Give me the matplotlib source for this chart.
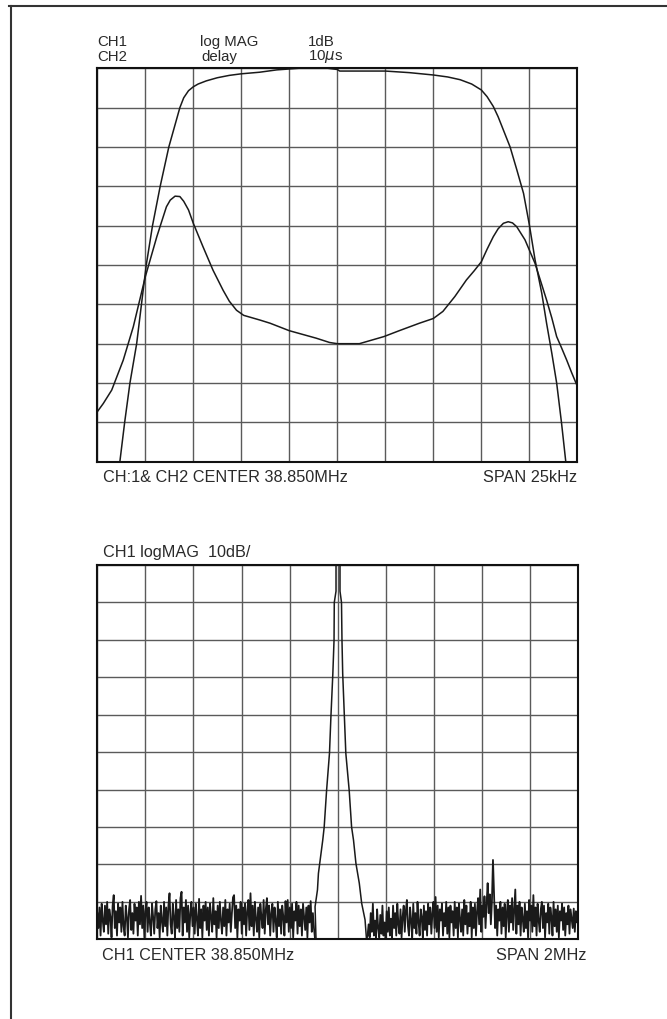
import numpy as np
import matplotlib
matplotlib.use("Agg")
import matplotlib.pyplot as plt
from matplotlib.lines import Line2D

plt.rcParams['font.family'] = ['Liberation Sans', 'DejaVu Sans']

# --- top screen: CH1 log MAG (1 dB/div) and CH2 delay (10 us/div), in divisions ---
ch1_mag_x = [0.44, 0.47, 0.57, 0.68, 0.82, 0.92, 1.02, 1.15, 1.31, 1.49, 1.72, 1.80,
             1.90, 2.00, 2.10, 2.27, 2.50, 2.75, 3.00, 3.38, 3.74, 4.20, 4.80, 5.00,
             5.05, 6.00, 6.50, 7.00, 7.30, 7.56, 7.80, 8.00, 8.12, 8.25, 8.35, 8.60,
             8.74, 8.88, 9.00, 9.12, 9.26, 9.36, 9.47, 9.57, 9.67, 9.76, 9.80]
ch1_mag_y = [-0.3, 0.0, 1.0, 2.0, 3.0, 4.0, 5.0, 6.0, 7.0, 8.0, 9.0, 9.25,
             9.43, 9.53, 9.60, 9.68, 9.76, 9.82, 9.86, 9.90, 9.96, 10.0, 10.0, 9.97,
             9.93, 9.93, 9.89, 9.83, 9.78, 9.71, 9.60, 9.45, 9.28, 9.03, 8.77, 8.0,
             7.42, 6.82, 6.03, 5.13, 4.28, 3.52, 2.75, 2.0, 1.0, 0.0, -0.3]

ch2_delay_x = [0.0, 0.125, 0.3, 0.54, 0.75, 1.0, 1.24, 1.44, 1.52, 1.62, 1.72, 1.80,
               1.9, 2.0, 2.2, 2.41, 2.62, 2.75, 2.9, 3.05, 3.39, 3.6, 4.0, 4.56, 4.84,
               5.0, 5.46, 5.97, 6.29, 6.71, 7.0, 7.2, 7.45, 7.69, 7.85, 8.0, 8.12,
               8.25, 8.35, 8.46, 8.56, 8.65, 8.74, 8.91, 9.12, 9.36, 9.47, 9.57, 9.67,
               9.78, 9.88, 9.99]
ch2_delay_y = [1.27, 1.48, 1.82, 2.58, 3.43, 4.70, 5.72, 6.48, 6.65, 6.75, 6.74, 6.62,
               6.4, 6.06, 5.47, 4.87, 4.36, 4.08, 3.85, 3.72, 3.6, 3.52, 3.33, 3.14, 3.03,
               3.0, 3.0, 3.18, 3.33, 3.52, 3.64, 3.82, 4.2, 4.62, 4.85, 5.08, 5.4,
               5.72, 5.92, 6.06, 6.1, 6.07, 5.97, 5.64, 5.04, 4.11, 3.65, 3.18, 2.9,
               2.58, 2.27, 1.95]

# --- bottom screen: CH1 log MAG 10 dB/div, span 2 MHz ---
peak_x = [4.55, 4.53, 4.58, 4.60, 4.69, 4.72, 4.77, 4.83, 4.86, 4.90, 4.925, 4.93,
          4.966, 4.966, 5.049, 5.049, 5.08, 5.09, 5.105, 5.14, 5.17, 5.24, 5.29, 5.33,
          5.38, 5.45, 5.50, 5.57, 5.60]
peak_y = [0.0, 0.87, 1.32, 1.76, 2.65, 3.0, 3.98, 4.97, 5.95, 7.1, 8.0, 9.0,
          9.3, 10.3, 10.3, 9.3, 9.0, 8.0, 7.1, 5.95, 4.97, 3.98, 3.0, 2.65,
          2.03, 1.5, 0.96, 0.52, 0.0]

noise_left = [
    0.7, 0.3, 0.85, 0.1, 0.95, 0.5, 0.2, 0.9, 0.4, 1.0, 0.15, 0.8, 0.6, 0.05, 0.9, 1.18, 0.3, 0.75, 0.1, 0.95,
    0.45, 0.85, 0.2, 1.0, 0.35, 0.1, 0.9, 0.6, 0.05, 0.8, 1.05, 0.25, 0.7, 0.15, 0.95, 0.5, 0.85, 0.1, 1.0, 0.4,
    1.16, 0.3, 0.9, 0.05, 0.75, 1.0, 0.2, 0.85, 0.45, 0.1, 0.95, 0.6, 0.15, 0.8, 1.02, 0.3, 0.7, 0.05, 0.9, 0.5,
    0.2, 1.0, 0.35, 0.85, 0.1, 0.9, 1.23, 0.4, 0.15, 0.95, 0.6, 0.05, 1.05, 0.3, 0.8, 0.2, 1.1, 1.27, 0.1, 0.85,
    0.45, 1.05, 0.2, 0.9, 0.05, 0.7, 1.0, 0.35, 0.85, 0.15, 0.95, 0.55, 0.1, 1.08, 0.3, 0.8, 0.05, 0.9, 0.5, 1.0,
    0.25, 0.85, 0.1, 0.95, 0.6, 0.2, 1.1, 0.4, 0.75, 0.05, 0.9, 0.3, 1.0, 0.5, 0.15, 0.85, 0.35, 1.05, 0.1, 0.8,
    0.45, 0.95, 0.2, 0.7, 1.12, 1.18, 0.3, 0.9, 0.05, 0.8, 0.5, 1.0, 0.15, 0.85, 0.4, 0.95, 0.1, 0.75, 1.05, 0.25,
    1.23, 0.35, 0.9, 0.1, 1.0, 0.55, 0.2, 0.85, 0.05, 0.95, 0.6, 0.3, 1.05, 0.15, 0.8, 1.1, 0.4, 0.9, 0.1, 0.7,
    0.95, 0.2, 0.85, 0.5, 0.05, 1.0, 0.35, 0.8, 0.15, 0.9, 0.6, 0.1, 1.02, 0.45, 1.05, 0.2, 0.85, 0.3, 0.95, 0.05,
    0.75, 0.5, 1.0, 0.15, 0.9, 0.35, 0.8, 0.1, 0.95, 0.6, 0.25, 0.85, 0.05, 0.9, 0.45, 1.02, 0.2, 0.7, 0.3, 0.0]
noise_right = [
    0.0, 0.1, 0.4, 0.05, 0.7, 0.2, 0.95, 0.1, 0.5, 0.05, 0.8, 0.3, 0.05, 0.65, 0.15, 0.9, 0.1, 0.45, 0.0, 0.75,
    0.2, 0.85, 0.1, 0.55, 0.05, 0.9, 0.3, 0.7, 0.1, 0.95, 0.4, 0.15, 0.8, 0.05, 0.6, 0.9, 0.2, 0.75, 1.05, 0.35,
    0.1, 0.85, 0.5, 0.05, 0.95, 0.3, 0.7, 0.15, 1.0, 0.45, 0.1, 0.8, 0.6, 0.05, 0.9, 0.25, 0.75, 0.1, 0.95, 0.4,
    0.85, 0.15, 0.7, 1.0, 0.3, 1.13, 0.2, 0.9, 0.05, 0.8, 0.5, 0.95, 0.1, 0.7, 0.35, 1.0, 0.15, 0.85, 0.05, 0.9,
    0.45, 0.75, 0.1, 1.0, 0.3, 0.85, 0.05, 0.95, 0.55, 0.2, 0.8, 0.1, 1.05, 0.4, 0.9, 0.15, 0.7, 0.35, 1.0, 0.05,
    0.85, 0.3, 0.95, 0.1, 0.75, 1.1, 0.4, 1.33, 0.2, 0.9, 0.6, 1.15, 0.3, 0.95, 1.5, 0.7, 1.2, 0.4, 1.0, 2.12,
    1.25, 0.3, 0.9, 0.1, 0.8, 0.5, 1.0, 0.15, 0.85, 0.35, 0.95, 0.05, 0.7, 1.05, 0.2, 0.9, 0.45, 1.1, 0.25, 0.8,
    1.33, 0.15, 0.9, 0.4, 1.0, 0.1, 0.85, 0.55, 0.2, 0.95, 0.3, 0.75, 0.05, 1.05, 0.5, 0.9, 0.2, 1.18, 0.35, 0.85,
    0.1, 0.95, 0.5, 0.2, 0.8, 1.0, 0.3, 0.9, 0.05, 0.7, 0.45, 0.95, 0.15, 0.85, 0.6, 0.1, 1.0, 0.35, 0.8, 0.2,
    0.9, 0.05, 0.75, 0.5, 0.95, 0.25, 0.85, 0.1, 0.7, 0.4, 0.9, 0.15, 0.8, 0.55, 0.3, 0.82, 0.2, 0.75, 0.45, 0.8]

TRACE = '#1a1a1a'
GRID = '#5a5a5a'


def setup_screen(ax):
    ax.set_xlim(0, 10)
    ax.set_ylim(0, 10)
    ax.set_xticks(range(11))
    ax.set_yticks(range(11))
    ax.tick_params(length=0, labelbottom=False, labelleft=False)
    ax.grid(True, color=GRID, lw=1.0)
    ax.set_axisbelow(True)
    for s in ax.spines.values():
        s.set_linewidth(1.5)
        s.set_color('#111111')


fig = plt.figure(figsize=(6.67, 10.19), dpi=100)
W, H = 667.0, 1019.0

# page frame (top and left edges only)
fig.add_artist(Line2D([9 / W, 1.0], [1 - 6 / H, 1 - 6 / H], color='#333333', lw=1.5))
fig.add_artist(Line2D([11 / W, 11 / W], [0.0, 1 - 6 / H], color='#333333', lw=1.5))

ax1 = fig.add_axes([97.3 / W, 1 - 461.7 / H, 480 / W, 393.4 / H])
setup_screen(ax1)
ax1.plot(ch1_mag_x, ch1_mag_y, color=TRACE, lw=1.1)
ax1.plot(ch2_delay_x, ch2_delay_y, color=TRACE, lw=1.1)

ax2 = fig.add_axes([97.3 / W, 1 - 939.3 / H, 480.7 / W, 374.3 / H])
setup_screen(ax2)
x_left = np.linspace(0.0, 4.53, len(noise_left))
x_right = np.linspace(5.6, 10.0, len(noise_right))
ax2.plot(x_left, noise_left, color=TRACE, lw=1.3)
ax2.plot(peak_x, peak_y, color=TRACE, lw=1.1)
ax2.plot(x_right, noise_right, color=TRACE, lw=1.3)

# header and footer annotations
fs_head = 10.8
fs_foot = 11.7
def ftext(px, py, s, fs, ha='left'):
    fig.text(px / W, 1 - py / H, s, fontsize=fs, ha=ha, va='center', color='#2a2a2a')

ftext(97, 41.7, 'CH1', fs_head)
ftext(97, 56.7, 'CH2', fs_head)
ftext(200, 41.7, 'log MAG', fs_head)
ftext(201.7, 56.7, 'delay', fs_head)
ftext(308, 41.7, '1dB', fs_head)
ftext(308, 56.7, r'10$\mu$s', fs_head)

ftext(102.7, 477.7, 'CH:1& CH2 CENTER 38.850MHz', fs_foot)
ftext(577.3, 477.7, 'SPAN 25kHz', fs_foot, ha='right')

ftext(103, 552, 'CH1 logMAG  10dB/', fs_foot)
ftext(101.7, 955, 'CH1 CENTER 38.850MHz', fs_foot)
ftext(586, 955, 'SPAN 2MHz', fs_foot, ha='right')

fig.savefig('out.png', dpi=100)
